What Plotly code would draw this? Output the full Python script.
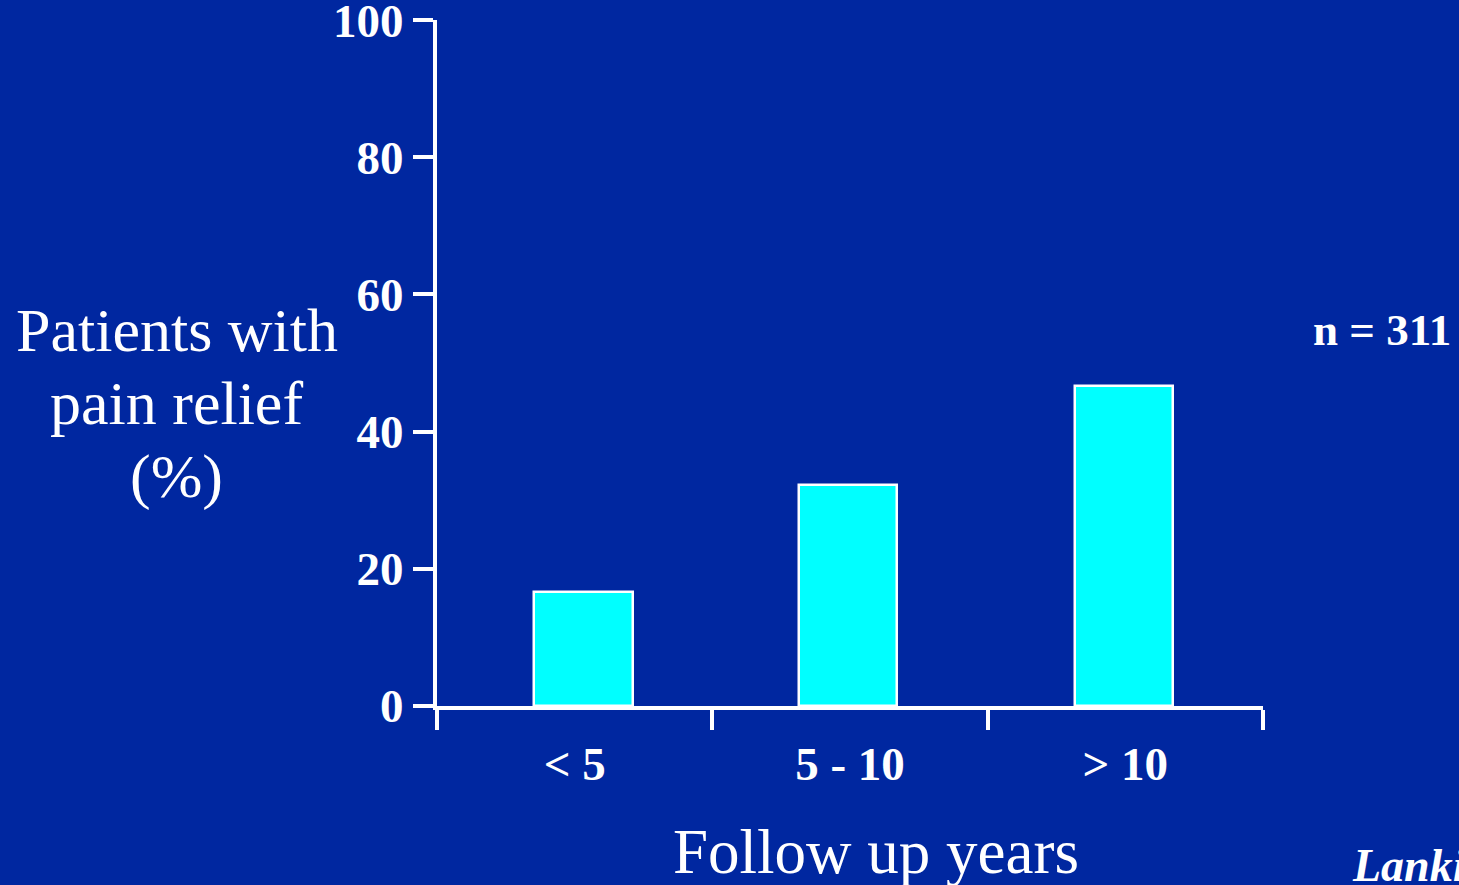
import plotly.graph_objects as go

categories = ["< 5", "5 - 10", "> 10"]
values = [16.6, 32.2, 46.6]
y_ticks = [0, 20, 40, 60, 80, 100]
y_title_lines = ["Patients with", "pain relief", "(%)"]

BG = "#0027A0"
SERIF = "Liberation Serif, Times New Roman, serif"

fig = go.Figure()
fig.add_trace(go.Bar(
    x=categories, y=values, width=0.357,
    offset=[-0.146, -0.185, -0.184],
    marker=dict(color="#00FFFF", line=dict(color="white", width=2.5)),
    hoverinfo="skip",
))

fig.update_layout(
    width=1459, height=885,
    paper_bgcolor=BG, plot_bgcolor=BG,
    margin=dict(l=437, r=196, t=20, b=179, autoexpand=False),
    showlegend=False,
    bargap=0,
)
fig.update_xaxes(
    range=[-0.5, 2.5], showgrid=False, zeroline=False, automargin=False,
    showline=True, linecolor="white", linewidth=4,
    ticks="outside", tickson="boundaries", ticklen=20, tickwidth=4, tickcolor="white",
    ticklabelstandoff=14,
    tickfont=dict(family=SERIF, size=47, color="white", weight="bold"),
)
fig.update_yaxes(
    range=[0, 100.01], tickvals=y_ticks, showgrid=False, zeroline=False, automargin=False,
    showline=True, linecolor="white", linewidth=4,
    ticks="outside", ticklen=20, tickwidth=4, tickcolor="white",
    ticklabelstandoff=0, ticklabeloverflow="allow",
    tickfont=dict(family=SERIF, size=47, color="white", weight="bold"),
)

for line, yp in zip(y_title_lines, [0.548, 0.442, 0.334]):
    fig.add_annotation(
        text=line, xref="paper", yref="paper",
        x=-0.315, y=yp, xanchor="center", yanchor="middle", showarrow=False,
        font=dict(family=SERIF, size=62, color="white"),
    )
fig.add_annotation(
    text="Follow up years", xref="paper", yref="paper",
    x=0.531, y=-0.213, xanchor="center", yanchor="middle", showarrow=False,
    font=dict(family=SERIF, size=63, color="white"),
)
fig.add_annotation(
    text="n = 311", xref="paper", yref="paper",
    x=1.058, y=0.548, xanchor="left", yanchor="middle", showarrow=False,
    font=dict(family=SERIF, size=45, color="white", weight="bold"),
)
fig.add_annotation(
    text="<i>Lankisch</i>", xref="paper", yref="paper",
    x=1.105, y=-0.232, xanchor="left", yanchor="middle", showarrow=False,
    font=dict(family=SERIF, size=46, color="white", weight="bold"),
)

fig.write_html(
    "out.html",
    config={"displayModeBar": False},
    post_script="document.body.style.margin='0';document.body.style.background='%s';" % BG,
)
